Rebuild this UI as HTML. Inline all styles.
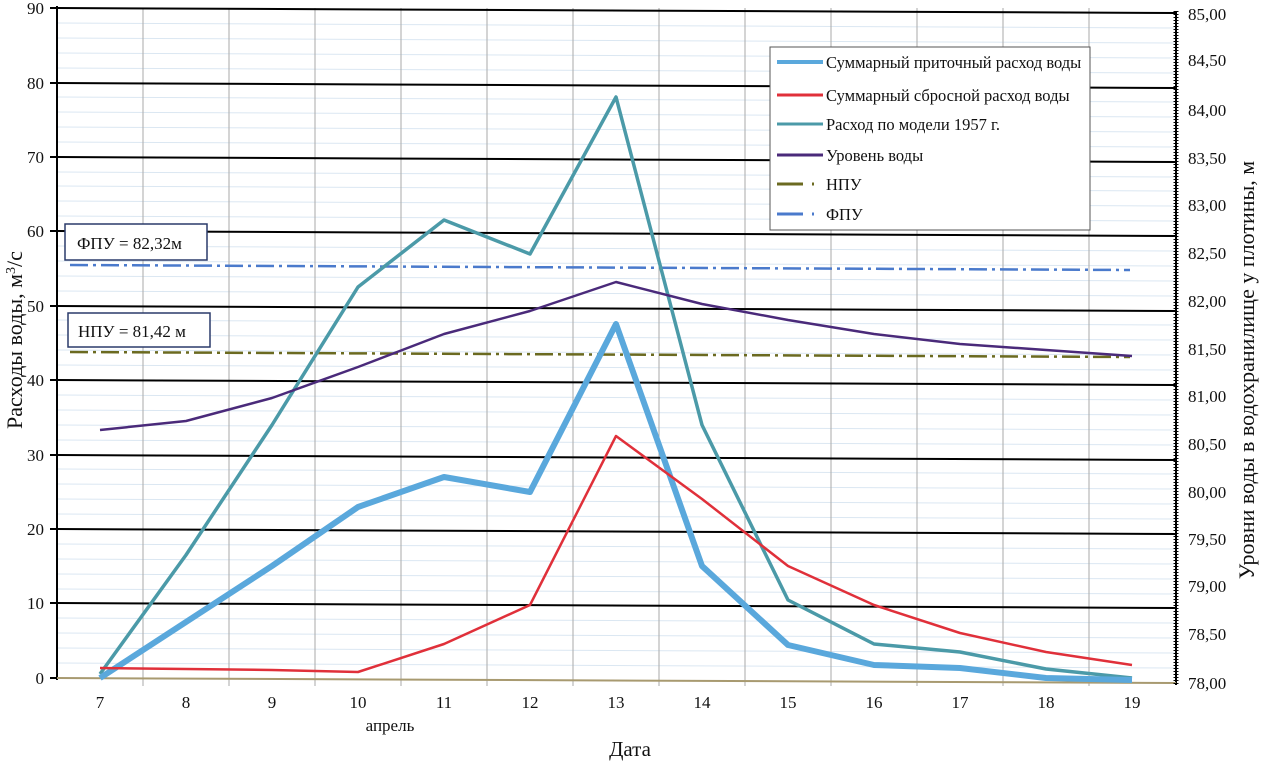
<!DOCTYPE html>
<html><head><meta charset="utf-8"><style>
body{margin:0;background:#fff}
svg text{font-family:"Liberation Serif",serif;fill:#111}
</style></head><body>
<svg width="1262" height="764" viewBox="0 0 1262 764" xmlns="http://www.w3.org/2000/svg">
<g stroke="#dbe7f2" stroke-width="1">
<line x1="57" y1="663" x2="1176" y2="668"/><line x1="57" y1="648" x2="1176" y2="653"/><line x1="57" y1="633" x2="1176" y2="638"/><line x1="57" y1="618" x2="1176" y2="623"/>
<line x1="57" y1="589" x2="1176" y2="594"/><line x1="57" y1="574" x2="1176" y2="579"/><line x1="57" y1="559" x2="1176" y2="564"/><line x1="57" y1="544" x2="1176" y2="549"/>
<line x1="57" y1="514" x2="1176" y2="519"/><line x1="57" y1="499" x2="1176" y2="504"/><line x1="57" y1="484" x2="1176" y2="489"/><line x1="57" y1="469" x2="1176" y2="474"/>
<line x1="57" y1="440" x2="1176" y2="445"/><line x1="57" y1="425" x2="1176" y2="430"/><line x1="57" y1="410" x2="1176" y2="415"/><line x1="57" y1="395" x2="1176" y2="400"/>
<line x1="57" y1="365" x2="1176" y2="370"/><line x1="57" y1="350" x2="1176" y2="355"/><line x1="57" y1="335" x2="1176" y2="340"/><line x1="57" y1="320" x2="1176" y2="325"/>
<line x1="57" y1="291" x2="1176" y2="296"/><line x1="57" y1="276" x2="1176" y2="281"/><line x1="57" y1="261" x2="1176" y2="266"/><line x1="57" y1="246" x2="1176" y2="251"/>
<line x1="57" y1="216" x2="1176" y2="221"/><line x1="57" y1="201" x2="1176" y2="206"/><line x1="57" y1="186" x2="1176" y2="191"/><line x1="57" y1="172" x2="1176" y2="177"/>
<line x1="57" y1="142" x2="1176" y2="147"/><line x1="57" y1="127" x2="1176" y2="132"/><line x1="57" y1="112" x2="1176" y2="117"/><line x1="57" y1="97" x2="1176" y2="102"/>
<line x1="57" y1="68" x2="1176" y2="73"/><line x1="57" y1="53" x2="1176" y2="58"/><line x1="57" y1="38" x2="1176" y2="43"/><line x1="57" y1="23" x2="1176" y2="28"/>
</g>
<g stroke="#aaa" stroke-width="1">
<line x1="143" y1="8" x2="143" y2="686"/><line x1="229" y1="8" x2="229" y2="686"/><line x1="315" y1="8" x2="315" y2="686"/><line x1="401" y1="8" x2="401" y2="686"/><line x1="487" y1="8" x2="487" y2="686"/><line x1="573" y1="8" x2="573" y2="686"/><line x1="659" y1="8" x2="659" y2="686"/><line x1="745" y1="8" x2="745" y2="686"/><line x1="831" y1="8" x2="831" y2="686"/><line x1="917" y1="8" x2="917" y2="686"/><line x1="1003" y1="8" x2="1003" y2="686"/><line x1="1089" y1="8" x2="1089" y2="686"/>
</g>
<g stroke="#000" stroke-width="2">
<line x1="57" y1="8" x2="1176" y2="13"/>
<line x1="57" y1="83" x2="1176" y2="88"/><line x1="57" y1="157" x2="1176" y2="162"/><line x1="57" y1="231" x2="1176" y2="236"/><line x1="57" y1="306" x2="1176" y2="311"/><line x1="57" y1="380" x2="1176" y2="385"/><line x1="57" y1="455" x2="1176" y2="460"/><line x1="57" y1="529" x2="1176" y2="534"/><line x1="57" y1="603" x2="1176" y2="608"/>
<line x1="57" y1="6" x2="57" y2="680"/><line x1="1176" y1="11" x2="1176" y2="685"/>
<line x1="50" y1="8" x2="57" y2="8"/><line x1="50" y1="83" x2="57" y2="83"/><line x1="50" y1="157" x2="57" y2="157"/><line x1="50" y1="231" x2="57" y2="231"/><line x1="50" y1="306" x2="57" y2="306"/><line x1="50" y1="380" x2="57" y2="380"/><line x1="50" y1="455" x2="57" y2="455"/><line x1="50" y1="529" x2="57" y2="529"/><line x1="50" y1="603" x2="57" y2="603"/><line x1="50" y1="678" x2="57" y2="678"/>
</g>
<line x1="57" y1="678" x2="1176" y2="683" stroke="#a89a70" stroke-width="2"/>
<line x1="1176" y1="11" x2="1176" y2="685" stroke="#000" stroke-width="5" stroke-dasharray="1 2"/>
<g font-size="17" text-anchor="end">
<text x="44" y="14">90</text><text x="44" y="89">80</text><text x="44" y="163">70</text><text x="44" y="237">60</text><text x="44" y="312">50</text><text x="44" y="386">40</text><text x="44" y="461">30</text><text x="44" y="535">20</text><text x="44" y="609">10</text><text x="44" y="684">0</text>
</g>
<g font-size="17">
<text x="1188" y="20">85,00</text><text x="1188" y="66">84,50</text><text x="1188" y="116">84,00</text><text x="1188" y="164">83,50</text><text x="1188" y="211">83,00</text><text x="1188" y="259">82,50</text><text x="1188" y="307">82,00</text><text x="1188" y="355">81,50</text><text x="1188" y="402">81,00</text><text x="1188" y="450">80,50</text><text x="1188" y="498">80,00</text><text x="1188" y="545">79,50</text><text x="1188" y="592">79,00</text><text x="1188" y="640">78,50</text><text x="1188" y="689">78,00</text>
</g>
<g font-size="17" text-anchor="middle">
<text x="100" y="708">7</text><text x="186" y="708">8</text><text x="272" y="708">9</text><text x="358" y="708">10</text><text x="444" y="708">11</text><text x="530" y="708">12</text><text x="616" y="708">13</text><text x="702" y="708">14</text><text x="788" y="708">15</text><text x="874" y="708">16</text><text x="960" y="708">17</text><text x="1046" y="708">18</text><text x="1132" y="708">19</text>
<text x="390" y="731">апрель</text>
<text x="630" y="756" font-size="21">Дата</text>
</g>
<text transform="translate(22,340) rotate(-90)" font-size="22" text-anchor="middle">Расходы воды, м<tspan font-size="14" dy="-7">3</tspan><tspan dy="7">/с</tspan></text>
<text transform="translate(1254,370) rotate(-90)" font-size="22" text-anchor="middle">Уровни воды в водохранилище у плотины, м</text>
<polyline points="70,265 1130,270" stroke="#4a7acc" stroke-width="2.5" fill="none" stroke-dasharray="18 5 3 5"/>
<polyline points="70,352 1130,357" stroke="#6b6a20" stroke-width="2.5" fill="none" stroke-dasharray="18 5 3 5"/>
<polyline points="100,674 186,555 272,425 358,287 444,220 530,254 616,97 702,425 788,600 874,644 960,652 1046,669 1132,678" stroke="#4b9aa8" stroke-width="3.5" fill="none" stroke-linejoin="round"/>
<polyline points="100,678 186,622 272,566 358,507 444,477 530,492 616,324 702,566 788,645 874,665 960,668 1046,678 1132,680" stroke="#5aa8dc" stroke-width="6" fill="none" stroke-linejoin="round"/>
<polyline points="100,668 186,669 272,670 358,672 444,644 530,605 616,436 702,499 788,566 874,605 960,633 1046,652 1132,665" stroke="#e0303a" stroke-width="2.5" fill="none" stroke-linejoin="round"/>
<polyline points="100,430 186,421 272,398 358,367 444,334 530,311 616,282 702,304 788,320 874,334 960,344 1046,350 1132,356" stroke="#4a2a7a" stroke-width="2.5" fill="none" stroke-linejoin="round"/>
<rect x="65" y="224" width="142" height="36" fill="#fff" stroke="#2a3a6a" stroke-width="1.5"/>
<text x="77" y="249" font-size="17">ФПУ = 82,32м</text>
<rect x="68" y="313" width="142" height="34" fill="#fff" stroke="#2a3a6a" stroke-width="1.5"/>
<text x="78" y="337" font-size="17">НПУ = 81,42 м</text>
<rect x="770" y="47" width="320" height="183" fill="#fff" stroke="#555" stroke-width="1"/>
<g stroke-width="3">
<line x1="777" y1="62" x2="823" y2="62" stroke="#5aa8dc" stroke-width="4"/>
<line x1="777" y1="95" x2="823" y2="95" stroke="#e0303a"/>
<line x1="777" y1="124" x2="823" y2="124" stroke="#4b9aa8"/>
<line x1="777" y1="155" x2="823" y2="155" stroke="#4a2a7a"/>
<line x1="777" y1="184" x2="803" y2="184" stroke="#6b6a20"/><line x1="812" y1="184" x2="814" y2="184" stroke="#6b6a20"/>
<line x1="777" y1="214" x2="803" y2="214" stroke="#4a7acc"/><line x1="812" y1="214" x2="814" y2="214" stroke="#4a7acc"/>
</g>
<g font-size="16.5">
<text x="826" y="68">Суммарный  приточный расход воды</text>
<text x="826" y="101">Суммарный  сбросной расход воды</text>
<text x="826" y="130">Расход по модели 1957 г.</text>
<text x="826" y="161">Уровень воды</text>
<text x="826" y="190">НПУ</text>
<text x="826" y="220">ФПУ</text>
</g>
</svg>
</body></html>
